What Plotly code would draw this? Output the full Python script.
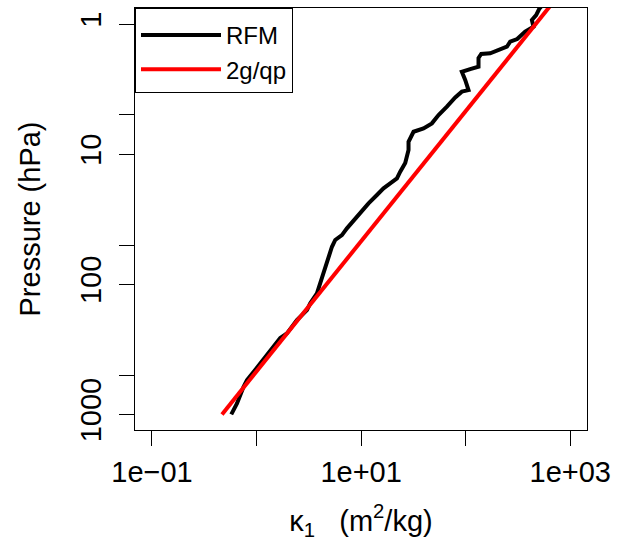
import plotly.graph_objects as go

# RFM profile: absorption coefficient kappa_1 (m^2/kg) vs pressure (hPa)
rfm_kappa = [0.573, 0.650, 0.751, 0.810, 1.038, 1.352, 1.685, 1.953, 2.433, 3.032,
             3.262, 3.779, 4.064, 4.220, 4.710, 5.259, 5.654, 6.552, 7.315, 8.783,
             9.80, 11.77, 14.16, 16.37, 18.97, 22.0, 23.65, 26.4, 28.4, 28.4,
             31.7, 39.5, 47.5, 55.0, 66.1, 79.4, 91.9, 106.4, 98.9, 91.9,
             110.4, 132.6, 132.6, 140.7, 171.5, 205.9, 247.7, 266.3, 310.8, 370.6,
             444.7, 429.5, 472.0, 504.0, 551.0]
rfm_p = [1000, 823, 614, 545, 425, 320, 259, 238.5, 188.5, 157.9,
         140.2, 117.5, 97.9, 90.1, 69.1, 51.5, 45.7, 41.9, 37.2, 31.2,
         28.5, 23.9, 20.6, 18.3, 16.77, 15.35, 13.65, 11.7, 9.30, 8.03,
         6.73, 6.34, 5.80, 5.01, 4.32, 3.67, 3.31, 3.22, 2.69, 2.33,
         2.22, 2.13, 1.825, 1.70, 1.68, 1.584, 1.495, 1.368, 1.304, 1.142,
         1.049, 0.932, 0.853, 0.767, 0.702]

# 2g/qp reference line (straight in log-log)
ref_p = [1000, 0.5]
ref_kappa = [0.467, 934]

x_tickvals = [0.1, 1, 10, 100, 1000]
x_ticktext = ["1e\u221201", "", "1e+01", "", "1e+03"]
y_tickvals = [1, 5, 10, 50, 100, 500, 1000]
y_ticktext = ["1", "", "10", "", "100", "", "1000"]

FONT = "Liberation Sans, Arial, sans-serif"

fig = go.Figure()
fig.add_trace(go.Scatter(x=rfm_kappa, y=rfm_p, mode="lines", name="RFM",
                         line=dict(color="black", width=4)))
fig.add_trace(go.Scatter(x=ref_kappa, y=ref_p, mode="lines", name="2g/qp",
                         line=dict(color="#ff0000", width=4)))

fig.update_layout(
    width=626, height=546,
    margin=dict(l=135, r=39, t=8, b=116),
    paper_bgcolor="white", plot_bgcolor="white",
    font=dict(family=FONT, color="black", size=29),
    showlegend=True,
    legend=dict(x=0, y=1, xanchor="left", yanchor="top",
                bordercolor="black", borderwidth=1, bgcolor="white",
                font=dict(size=24, family=FONT), tracegroupgap=0,
                itemwidth=80,
                title=dict(text=" ", font=dict(size=3, family=FONT))),
    xaxis=dict(type="log", range=[-1.1625, 3.16],
               tickmode="array", tickvals=x_tickvals, ticktext=x_ticktext,
               ticks="outside", ticklen=15, tickwidth=1, tickcolor="black",
               showline=True, linecolor="black", linewidth=1, mirror=True,
               showgrid=False, zeroline=False,
               tickfont=dict(size=29, family=FONT),
               ticklabelstandoff=1,
               title=dict(text="\u03ba<sub>1</sub>   (m<sup>2</sup>/kg)",
                          font=dict(size=29, family=FONT), standoff=23)),
    yaxis=dict(type="log", range=[3.12, -0.123],
               tickmode="array", tickvals=y_tickvals, ticktext=y_ticktext,
               ticks="outside", ticklen=15, tickwidth=1, tickcolor="black",
               showline=True, linecolor="black", linewidth=1, mirror=True,
               showgrid=False, zeroline=False, tickangle=-90,
               tickfont=dict(size=29, family=FONT),
               ticklabelstandoff=6,
               title=dict(text="Pressure (hPa)",
                          font=dict(size=29, family=FONT), standoff=26)),
)

fig.write_html("out.html")
